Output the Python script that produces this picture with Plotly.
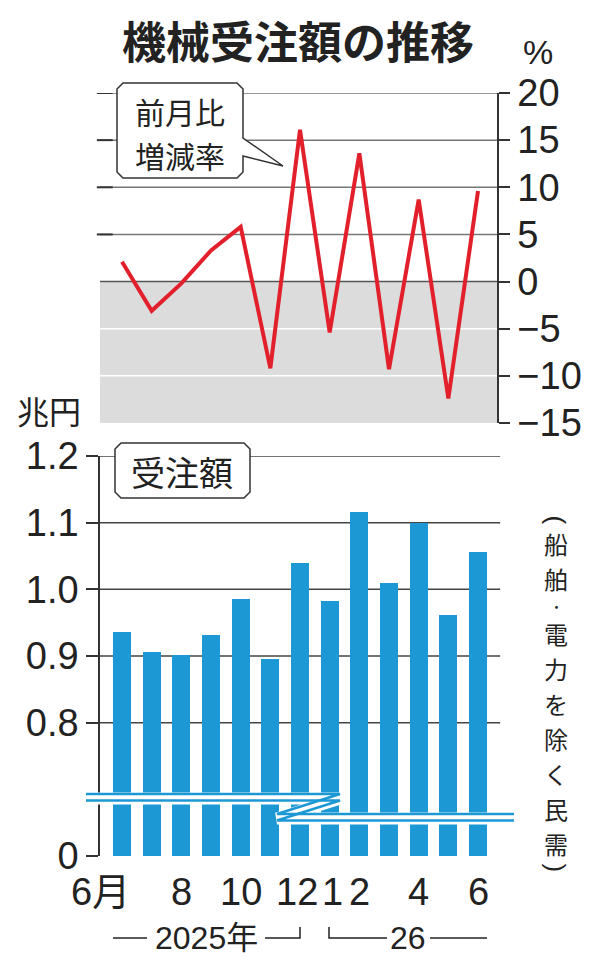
import plotly.graph_objects as go

# 機械受注額の推移 (船舶・電力を除く民需)
month_nums = [6, 7, 8, 9, 10, 11, 12, 1, 2, 3, 4, 5, 6]
tick_labels = ["6月", "", "8", "", "10", "", "12", "1", "2", "", "4", "", "6"]
mom_change = [2.1, -3.1, -0.2, 3.3, 5.8, -9.2, 16.1, -5.4, 13.6, -9.3, 8.7, -12.4, 9.6]   # 前月比増減率 %
orders = [0.936, 0.906, 0.902, 0.931, 0.985, 0.895, 1.039, 0.982, 1.116, 1.010, 1.100, 0.962, 1.056]  # 兆円

pct_ticks = [-15, -10, -5, 0, 5, 10, 15, 20]
amt_ticks = [0.6, 0.8, 0.9, 1.0, 1.1, 1.2]
amt_ticktext = ["0", "0.8", "0.9", "1.0", "1.1", "1.2"]

W, H = 600, 973
INK = "#222222"
RED = "#e2202c"
BLUE = "#1c98d5"
JP = "Noto Sans CJK JP"
NUM = "Liberation Sans, Noto Sans CJK JP"


def px(x, y):
    # pixel -> paper coords (margins are zero)
    return x / W, 1 - y / H


def path(points):
    s = ""
    for i, (x, y) in enumerate(points):
        u, v = px(x, y)
        s += ("M" if i == 0 else " L") + f" {u:.5f},{v:.5f}"
    return s


xi = list(range(len(month_nums)))
xdom = [100 / W, 497 / W]
xrng = [-0.742, 12.64]

fig = go.Figure()

fig.add_trace(go.Scatter(x=xi, y=mom_change, mode="lines",
                         line=dict(color=RED, width=4), xaxis="x", yaxis="y",
                         showlegend=False, hoverinfo="skip"))
fig.add_trace(go.Bar(x=xi, y=orders, width=0.6, marker=dict(color=BLUE, line=dict(width=0)),
                     xaxis="x2", yaxis="y2", showlegend=False, hoverinfo="skip"))
# small dots under each month
fig.add_trace(go.Scatter(x=xi, y=[0.585] * len(xi), mode="markers", cliponaxis=False,
                         marker=dict(color=INK, size=5), xaxis="x2", yaxis="y2",
                         showlegend=False, hoverinfo="skip"))

shapes = []
# gray area below zero
shapes.append(dict(type="rect", xref="x domain", yref="y", x0=0, x1=1, y0=-15, y1=0,
                   fillcolor="#dcdcdc", line=dict(width=0), layer="below"))
for v in pct_ticks[1:]:
    if v < 0:
        col = "white"
    elif v == 0:
        col = "#555555"
    else:
        col = "#777777"
    shapes.append(dict(type="line", xref="x domain", yref="y", x0=0, x1=1, y0=v, y1=v,
                       line=dict(color=col, width=1.5), layer="below"))
    if v > 0:
        shapes.append(dict(type="line", xref="x domain", yref="y", x0=-0.008, x1=0.032, y0=v, y1=v,
                           line=dict(color="#333333", width=2), layer="below"))
for v in amt_ticks[1:]:
    shapes.append(dict(type="line", xref="x2 domain", yref="y2", x0=0, x1=1.008, y0=v, y1=v,
                       line=dict(color="#444444", width=1.5), layer="below"))

# callout box 前月比増減率
box = [(123, 83), (237, 83), (243, 89), (243, 138), (283, 166), (243, 156), (243, 172),
       (237, 178), (123, 178), (117, 172), (117, 89)]
shapes.append(dict(type="path", xref="paper", yref="paper", path=path(box) + " Z",
                   fillcolor="white", line=dict(color="#333333", width=1.5)))
# label box 受注額
shapes.append(dict(type="path", xref="paper", yref="paper",
                   path=path([(121, 443), (244, 443), (250, 449), (250, 492), (244, 498),
                              (121, 498), (115, 492), (115, 449)]) + " Z",
                   fillcolor="white", line=dict(color="#333333", width=1.5)))

# axis break mark
brk = [(86, 798.5), (340, 798.5), (277, 818.5), (514, 818.5)]
shapes.append(dict(type="path", xref="paper", yref="paper", path=path(brk),
                   line=dict(color="white", width=12)))
for dy in (-4.5, 2.0):
    shapes.append(dict(type="path", xref="paper", yref="paper",
                       path=path([(x, y + dy) for x, y in brk]),
                       line=dict(color=BLUE, width=2.5)))

# year brackets
for seg in [[(113, 938), (147, 938)], [(265, 938), (300, 938), (300, 927)],
            [(329, 927), (329, 938), (387, 938)], [(430, 938), (487, 938)]]:
    shapes.append(dict(type="path", xref="paper", yref="paper", path=path(seg),
                       line=dict(color=INK, width=1.5)))

ann = []


def text(x, y, t, size, family=JP, **kw):
    u, v = px(x, y)
    ann.append(dict(x=u, y=v, xref="paper", yref="paper", text=t, showarrow=False,
                    xanchor="center", yanchor="middle",
                    font=dict(size=size, family=family, color=INK), **kw))


text(298, 40, "<b>機械受注額の推移</b>", 44)
text(538, 52, "%", 34, family=NUM)
text(180, 111, "前月比", 30)
text(180, 155, "増減率", 30)
text(182, 471, "受注額", 34)
text(49, 410, "兆円", 32)
text(206, 938, "2025年", 32, family=NUM)
text(408, 938, "26", 32, family=NUM)

# month labels on the bottom axis positions
nudge = {0: 10, 6: -3, 7: 3}
for i, lab in zip(xi, tick_labels):
    if not lab:
        continue
    u, v = px(0, 892)
    a = dict(x=i, y=v, xref="x2", yref="paper", text=lab, showarrow=False,
             xanchor="right" if i == 0 else "center", yanchor="middle",
             xshift=nudge.get(i, 0),
             font=dict(size=38, family=NUM, color=INK))
    ann.append(a)

# vertical note (written top to bottom)
note = ["(", "船", "舶", "・", "電", "力", "を", "除", "く", "民", "需", ")"]
y = 513
for ch in note:
    if ch in "()":
        step = 13
        text(556, y + step / 2, ch, 26, family="Liberation Sans", textangle=90)
    elif ch == "・":
        step = 20
        text(556, y + step / 2, ch, 13)
    else:
        step = 35
        text(556, y + step / 2, ch, 24)
    y += step

fig.update_layout(
    width=W, height=H, autosize=False,
    margin=dict(l=0, r=0, t=0, b=0, pad=0),
    paper_bgcolor="white", plot_bgcolor="rgba(0,0,0,0)",
    shapes=shapes, annotations=ann, bargap=0,
    xaxis=dict(domain=xdom, range=xrng, anchor="y", visible=False, fixedrange=True,
               automargin=False),
    yaxis=dict(domain=[1 - 423 / H, 1 - 93 / H], range=[-15, 20], side="right", anchor="x",
               tickvals=pct_ticks, showgrid=False, zeroline=False, automargin=False,
               showline=True, linecolor="#333333", linewidth=1.5,
               ticks="outside", ticklen=11, tickcolor="#333333", tickwidth=1.5,
               tickfont=dict(size=38, family=NUM, color=INK)),
    xaxis2=dict(domain=xdom, range=xrng, anchor="y2", visible=False, fixedrange=True,
                automargin=False),
    yaxis2=dict(domain=[1 - 856 / H, 1 - 456 / H], range=[0.6, 1.2], side="left", anchor="x2",
                tickvals=amt_ticks, ticktext=amt_ticktext, showgrid=False, zeroline=False,
                automargin=False,
                showline=True, linecolor="#333333", linewidth=1.5,
                ticks="outside", ticklen=12, tickcolor="#333333", tickwidth=1.5,
                tickfont=dict(size=38, family=NUM, color=INK)),
)

fig.write_html("out.html", config={"displayModeBar": False},
               post_script="document.body.style.margin='0';")
